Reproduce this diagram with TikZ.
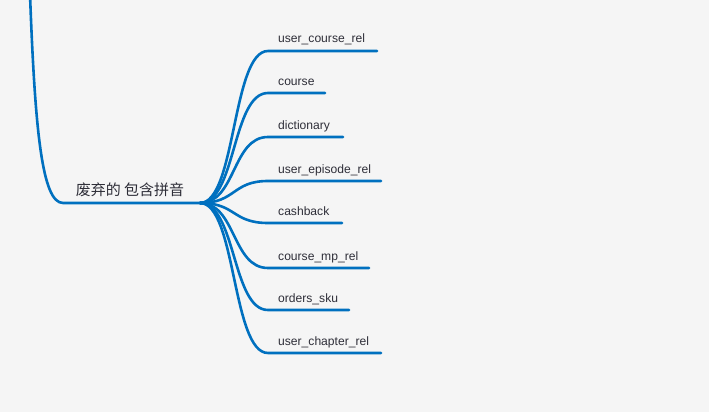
\documentclass[tikz,border=0pt]{standalone}
\usepackage{fontspec}
\setmainfont{Liberation Sans}
\newfontfamily\cjkfont{Noto Sans CJK SC}
\definecolor{bgc}{HTML}{F5F5F5}
\definecolor{linec}{HTML}{0070BF}
\definecolor{txtc}{HTML}{2E2E38}
\begin{document}
\begin{tikzpicture}[x=1pt,y=-1pt,
  conn/.style={draw=linec,line width=2.6pt,line cap=round},
  leaf/.style={anchor=base west,inner sep=0pt,text=txtc,font=\fontsize{12.1}{14}\selectfont},
  rootlbl/.style={anchor=base,inner sep=0pt,text=txtc,font=\cjkfont\fontsize{15}{17}\selectfont}]
\fill[bgc] (0,0) rectangle (709,412);
\useasboundingbox (0,0) rectangle (709,412);
% root
\coordinate (top) at (30,-6);
\coordinate (rs) at (63,203);
\coordinate (hub) at (200,203);
\node[rootlbl] (root) at (130,195) {废弃的 包含拼音};
\draw[conn] (top) .. controls (35,130) and (42,203) .. (rs) -- (hub);
% leaves: name / y / end x
\foreach \n/\t/\y/\e in {a/user\_course\_rel/51/377, b/course/93/325, c/dictionary/137/343, d/user\_episode\_rel/181/381, e/cashback/223/342, f/course\_mp\_rel/268/369, g/orders\_sku/310/349, h/user\_chapter\_rel/353/381}{
  \coordinate (s\n) at (268,\y);
  \coordinate (e\n) at (\e,\y);
  \node[leaf] (\n) at (278,\y-8) {\t};
  \draw[conn] (hub) .. controls (236,203) and (232,\y) .. (s\n) -- (e\n);
}
\end{tikzpicture}
\end{document}
